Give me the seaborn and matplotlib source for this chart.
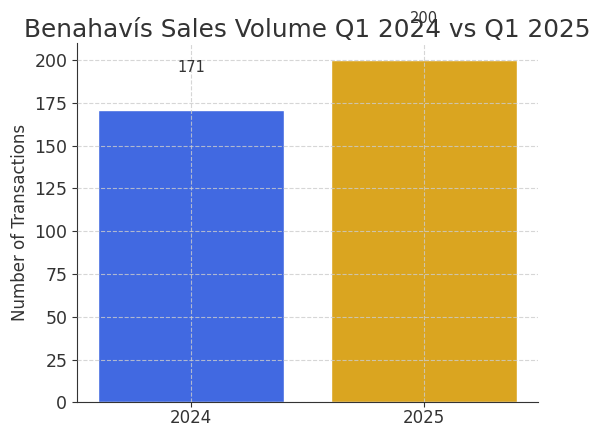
import matplotlib
matplotlib.use("Agg")
import matplotlib.pyplot as plt
import seaborn as sns
import pandas as pd

years = ["2024", "2025"]
transactions = [171, 200]
colors = ["#4169E1", "#DAA520"]

sns.set_style("ticks")
plt.rcParams['font.family'] = ['DejaVu Sans']

df = pd.DataFrame({"Year": years, "Transactions": transactions})

fig = plt.figure(figsize=(5.93, 4.28), dpi=100)
ax = fig.add_axes([0.130, 0.060, 0.777, 0.840])

sns.barplot(data=df, x="Year", y="Transactions", hue="Year", palette=colors,
            width=0.8, saturation=1, legend=False, ax=ax)
ax.set_xlim(-0.49, 1.49)
ax.set_ylim(0, 210)

for i, v in enumerate(transactions):
    ax.text(i, v + 20, str(v), ha="center", va="bottom", fontsize=10.5, color="#333333")

ax.set_title("Benahavís Sales Volume Q1 2024 vs Q1 2025", fontsize=17.8, color="#333333", pad=4)
ax.set_xlabel("")
ax.set_ylabel("Number of Transactions", fontsize=12, color="#333333")
ax.tick_params(labelsize=12.5, colors="#333333")
ax.tick_params(axis="x", pad=1, length=3.5, labelsize=12)
ax.grid(True, linestyle="--", color="#cccccc", alpha=0.8, linewidth=0.8)
ax.set_axisbelow(False)
sns.despine(ax=ax)
ax.spines["left"].set_color("#333333")
ax.spines["bottom"].set_color("#333333")

fig.savefig("out.png", dpi=100)
